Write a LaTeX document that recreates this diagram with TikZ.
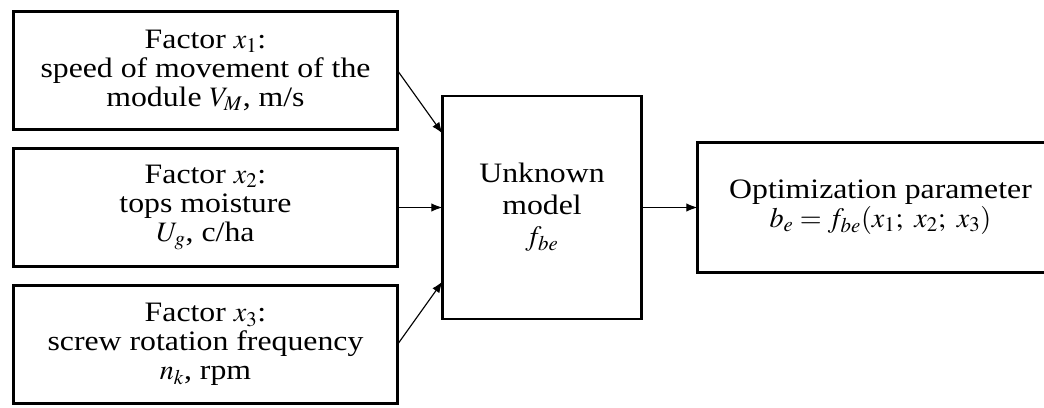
\documentclass[tikz,border=0pt]{standalone}
\usepackage{mathptmx}
\usepackage{fontspec}
\setmainfont{Liberation Serif}[FakeStretch=1.13]
\usetikzlibrary{arrows.meta,positioning}

\begin{document}
\begin{tikzpicture}
[->,>={Latex[length=8pt,width=6pt]}, node distance=4.75mm, thick,
every node/.style={font=\fontsize{20}{20.5}\selectfont, align=center},
factor/.style={draw, line width=2pt, outer sep=0pt, minimum width=9.6cm, minimum height=2.95cm},
model/.style={draw, line width=2pt, outer sep=0pt, minimum width=4.975cm, minimum height=5.575cm},
result/.style={draw, line width=2pt, outer sep=0pt, minimum width=9.15cm, minimum height=3.25cm}
]
  \clip (-5.1375,-8.4375) rectangle (20.9625,1.7625);

  \node[factor] (x1)              {Factor $x_1$:\\ speed of movement of the\\ module $V_M$, m/s};
  \node[factor] (x2) [below=of x1] {Factor $x_2$:\\ tops moisture\\ $U_g$, c/ha};
  \node[factor] (x3) [below=of x2] {Factor $x_3$:\\ screw rotation frequency\\ $n_k$, rpm};
  \node[model]  (fbe) [right=1.125cm of x2] {Unknown\\[2pt] model\\[2pt] $f_{be}$};
  \node[result] (be)  [right=1.4cm of fbe] {Optimization parameter\\ $b_e = f_{be}(x_1;\ x_2;\ x_3)$};

  \coordinate (in1) at ([yshift=1.85cm]fbe.west);
  \coordinate (in3) at ([yshift=-1.85cm]fbe.west);

  \path
	(x1.east) edge (in1)
	(x2.east) edge (fbe.west)
	(x3.east) edge (in3)
	(fbe.east) edge (be.west)
    ;
\end{tikzpicture}
\end{document}
